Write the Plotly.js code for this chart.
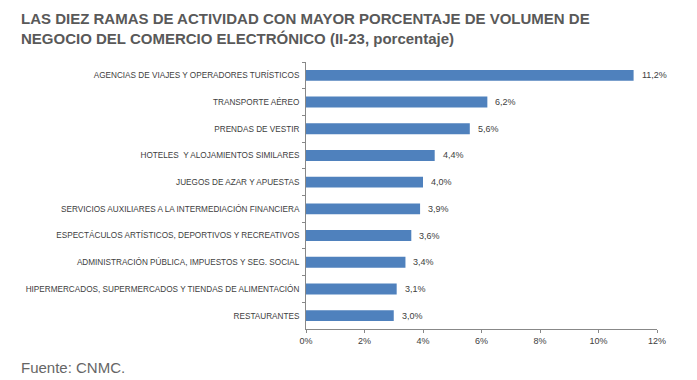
<!DOCTYPE html>
<html><head><meta charset="utf-8">
<script src="https://cdn.plot.ly/plotly-3.0.1.min.js"></script>
<style>html,body{margin:0;padding:0;background:#fff}#chart{width:697px;height:380px}</style>
</head><body><div id="chart"></div>
<script>
const categories = [
  "AGENCIAS DE VIAJES Y OPERADORES TURÍSTICOS",
  "TRANSPORTE AÉREO",
  "PRENDAS DE VESTIR",
  "HOTELES  Y ALOJAMIENTOS SIMILARES",
  "JUEGOS DE AZAR Y APUESTAS",
  "SERVICIOS AUXILIARES A LA INTERMEDIACIÓN FINANCIERA",
  "ESPECTÁCULOS ARTÍSTICOS, DEPORTIVOS Y RECREATIVOS",
  "ADMINISTRACIÓN PÚBLICA, IMPUESTOS Y SEG. SOCIAL",
  "HIPERMERCADOS, SUPERMERCADOS Y TIENDAS DE ALIMENTACIÓN",
  "RESTAURANTES"
];
const values = [11.2, 6.2, 5.6, 4.4, 4.0, 3.9, 3.6, 3.4, 3.1, 3.0];
const xTicks = [0, 2, 4, 6, 8, 10, 12];
const titleLines = [
  "LAS DIEZ RAMAS DE ACTIVIDAD CON MAYOR PORCENTAJE DE VOLUMEN DE",
  "NEGOCIO DEL COMERCIO ELECTRÓNICO (II-23, porcentaje)"
];
const source = "Fuente: CNMC.";

const font = 'Liberation Sans, Arial, sans-serif';
const L = 306, T = 62, W = 351, H = 267;
const px2x = p => (p - L) / W;
const py2y = p => (T + H - p) / H;

const annotations = values.map((v, i) => ({
  x: v, y: categories[i], xref: 'x', yref: 'y',
  text: v.toFixed(1).replace('.', ',') + '%',
  showarrow: false, xanchor: 'left', xshift: 6,
  font: {family: font, size: 9, color: '#404040'}
}));
titleLines.forEach((t, i) => annotations.push({
  xref: 'paper', yref: 'paper', x: px2x(19), y: py2y(18 + 20 * i),
  xanchor: 'left', yanchor: 'middle', showarrow: false,
  text: '<b>' + t + '</b>', font: {family: font, size: 15, color: '#595959'}
}));
annotations.push({
  xref: 'paper', yref: 'paper', x: px2x(19), y: py2y(367),
  xanchor: 'left', yanchor: 'middle', showarrow: false,
  text: source, font: {family: font, size: 15, color: '#666666'}
});

Plotly.newPlot('chart', [{
  type: 'bar', orientation: 'h', x: values, y: categories,
  marker: {color: '#4f81bd'}, hoverinfo: 'none'
}], {
  width: 697, height: 380,
  margin: {l: L, r: 697 - L - W, t: T, b: 380 - T - H},
  paper_bgcolor: '#fff', plot_bgcolor: '#fff',
  bargap: 0.59,
  showlegend: false,
  xaxis: {
    range: [0, 12], tickvals: xTicks, ticktext: xTicks.map(t => t + '%'),
    showgrid: false, zeroline: false, showline: true, linecolor: '#888', linewidth: 1,
    ticks: 'outside', ticklen: 3, tickcolor: '#888',
    tickfont: {family: font, size: 9, color: '#404040'}, fixedrange: true
  },
  yaxis: {
    type: 'category', autorange: 'reversed',
    showgrid: false, zeroline: false, showline: true, linecolor: '#888', linewidth: 1,
    ticks: 'outside', ticklen: 3, tickcolor: '#888', tickson: 'boundaries',
    ticklabelstandoff: 4,
    tickfont: {family: font, size: 8.2, color: '#404040'}, fixedrange: true
  },
  annotations: annotations
}, {displayModeBar: false, staticPlot: true});
</script></body></html>
